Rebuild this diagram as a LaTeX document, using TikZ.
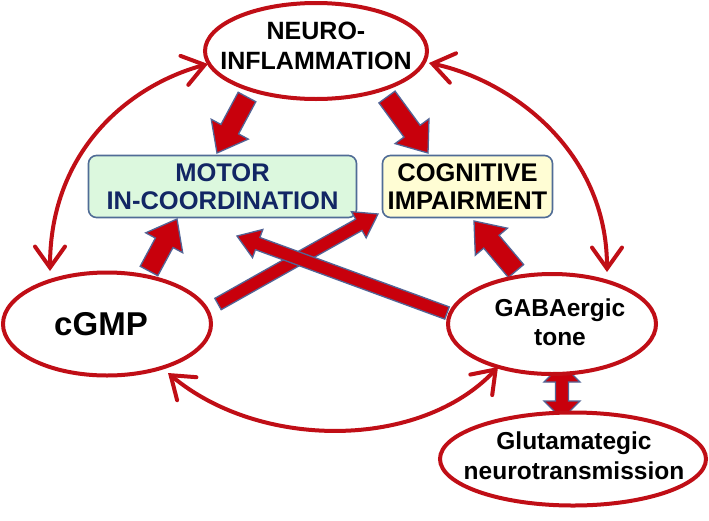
\documentclass[tikz,border=0pt]{standalone}
\usepackage{fontspec}
\setmainfont{Liberation Sans}
\usetikzlibrary{arrows.meta,calc,shapes.geometric}
\definecolor{ered}{RGB}{192,14,22}
\definecolor{ared}{RGB}{200,0,12}
\definecolor{aout}{RGB}{82,100,150}
\definecolor{mgreen}{RGB}{220,248,222}
\definecolor{cyellow}{RGB}{255,253,212}
\definecolor{navy}{RGB}{18,38,100}
\definecolor{bborder}{RGB}{80,108,150}
\tikzset{
  oval/.style={ellipse, draw=ered, line width=4pt, fill=white, inner sep=0pt},
  lbl/.style={align=center, inner sep=0pt, font=\bfseries},
  infobox/.style={rounded corners=8pt, draw=bborder, line width=1.6pt, inner sep=0pt, align=center},
  curvarrow/.style={draw=ered, line width=4pt, line cap=round,
    {Straight Barb[length=21pt,width=30pt,line cap=round]}-{Straight Barb[length=21pt,width=30pt,line cap=round]}},
  blk/.style={fill=ared, draw=aout, line width=1.3pt, line join=miter}
}
% #1 from, #2 to, #3 shaft half width, #4 head half width, #5 head length
\newcommand\blockarrow[5]{\draw[blk] let \p1=(#1), \p2=(#2),
  \n1={atan2(\y2-\y1,\x2-\x1)}, \n2={veclen(\x2-\x1,\y2-\y1)-#5} in
  ($(\p1)+(\n1+90:#3pt)$) -- ($(\p1)+(\n1:\n2)+(\n1+90:#3pt)$) -- ($(\p1)+(\n1:\n2)+(\n1+90:#4pt)$)
  -- (\p2) -- ($(\p1)+(\n1:\n2)+(\n1-90:#4pt)$) -- ($(\p1)+(\n1:\n2)+(\n1-90:#3pt)$)
  -- ($(\p1)+(\n1-90:#3pt)$) -- cycle;}
\newcommand\dblockarrow[5]{\draw[blk] let \p1=(#1), \p2=(#2),
  \n1={atan2(\y2-\y1,\x2-\x1)}, \n2={veclen(\x2-\x1,\y2-\y1)-#5} in
  (\p1) -- ($(\p1)+(\n1:#5pt)+(\n1+90:#4pt)$) -- ($(\p1)+(\n1:#5pt)+(\n1+90:#3pt)$)
  -- ($(\p1)+(\n1:\n2)+(\n1+90:#3pt)$) -- ($(\p1)+(\n1:\n2)+(\n1+90:#4pt)$)
  -- (\p2) -- ($(\p1)+(\n1:\n2)+(\n1-90:#4pt)$) -- ($(\p1)+(\n1:\n2)+(\n1-90:#3pt)$)
  -- ($(\p1)+(\n1:#5pt)+(\n1-90:#3pt)$) -- ($(\p1)+(\n1:#5pt)+(\n1-90:#4pt)$) -- cycle;}
\begin{document}
\begin{tikzpicture}[x=1pt,y=-1pt]
\useasboundingbox (0,0) rectangle (709,520);
\fill[white] (0,0) rectangle (709,520);
% end points of the block arrows
\coordinate (nm0) at (247,97);
\coordinate (nm1) at (217,153);
\coordinate (nc0) at (387,97);
\coordinate (nc1) at (428,153);
\coordinate (cm0) at (149,271);
\coordinate (cm1) at (177,219);
\coordinate (gc0) at (516,271);
\coordinate (gc1) at (474,221);
\coordinate (cc0) at (218,304);
\coordinate (cc1) at (378,214);
\coordinate (gm0) at (447,313);
\coordinate (gm1) at (237,236);
\coordinate (gg0) at (562,364);
\coordinate (gg1) at (562,419);
% boxes
\node[infobox, fill=mgreen, minimum width=268pt, minimum height=62pt,
  text=navy, font=\fontsize{25.5}{28}\selectfont\bfseries] (motor) at (222.5,186.5) {MOTOR\\IN-COORDINATION};
\node[infobox, fill=cyellow, minimum width=170pt, minimum height=62pt,
  font=\fontsize{25.5}{28}\selectfont\bfseries] (cog) at (467.5,186.5) {COGNITIVE\\IMPAIRMENT};
% block arrows
\blockarrow{nm0}{nm1}{10}{21}{27}
\blockarrow{nc0}{nc1}{10}{21}{27}
\blockarrow{cm0}{cm1}{10}{21}{27}
\blockarrow{gc0}{gc1}{10}{21}{27}
\blockarrow{cc0}{cc1}{6.5}{15}{22}
\blockarrow{gm0}{gm1}{6.5}{15}{22}
\dblockarrow{gg0}{gg1}{6.5}{18}{18}
% ellipses
\node[oval, minimum width=222pt, minimum height=96pt] (neuro) at (316,51) {};
\node[oval, minimum width=208pt, minimum height=103pt] (cgmp) at (107,324) {};
\node[oval, minimum width=208pt, minimum height=100pt] (gaba) at (552,324) {};
\node[oval, minimum width=266pt, minimum height=93pt] (glut) at (573,459) {};
% texts
\node[lbl, font=\fontsize{25}{30}\selectfont\bfseries] (neurot) at (316,46) {NEURO-\\INFLAMMATION};
\node[lbl, font=\fontsize{33}{36}\selectfont\bfseries] (cgmpt) at (101,324) {cGMP};
\node[lbl, font=\fontsize{24.5}{29}\selectfont\bfseries] (gabat) at (560,322) {GABAergic\\tone};
\node[lbl, font=\fontsize{24.5}{30}\selectfont\bfseries] (glutt) at (574,456) {Glutamategic\\neurotransmission};
% curved double arrows
\coordinate (a1s) at (208,64);
\coordinate (a1e) at (50,271);
\coordinate (a2s) at (429,63);
\coordinate (a2e) at (607,272);
\coordinate (a3s) at (168,373);
\coordinate (a3e) at (498,367);
\draw[curvarrow] (a1s) .. controls (130,85) and (50,150) .. (a1e);
\draw[curvarrow] (a2s) .. controls (510,80) and (607,150) .. (a2e);
\draw[curvarrow] (a3s) .. controls (260,450) and (420,450) .. (a3e);
\end{tikzpicture}
\end{document}
